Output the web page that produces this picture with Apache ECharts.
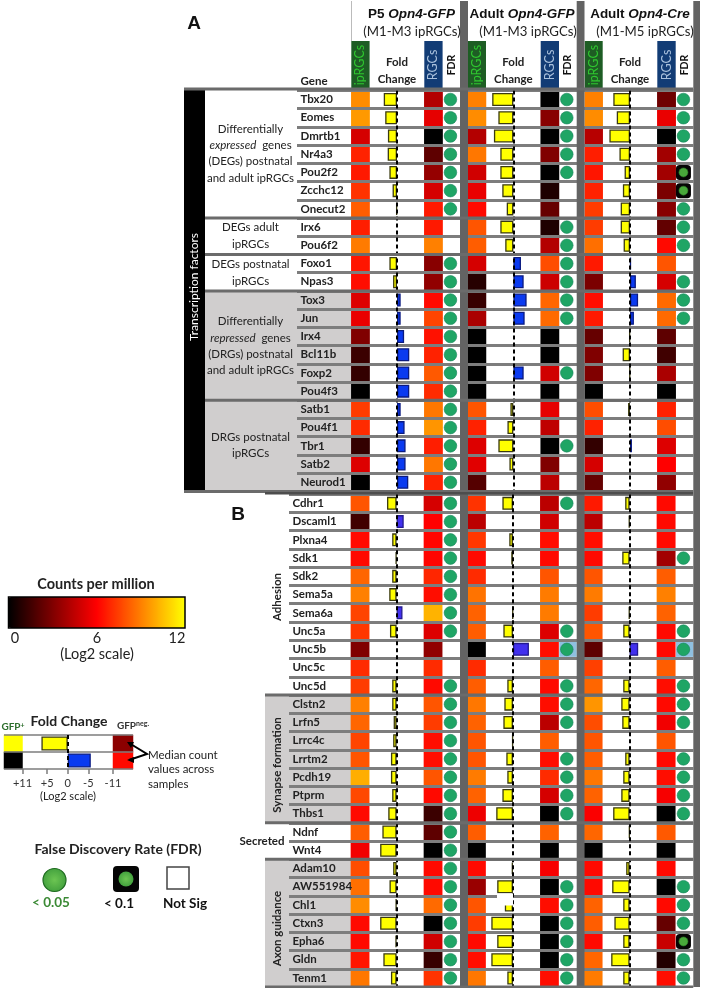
<!DOCTYPE html>
<html><head><meta charset="utf-8">
<style>html,body{margin:0;padding:0;background:#fff}#c{width:702px;height:988px}</style>
<script src="https://cdn.jsdelivr.net/npm/echarts@6/dist/echarts.min.js"></script>
</head><body><div id="c"></div>
<script>
// ---------- DATA ----------
const genesA=['Tbx20','Eomes','Dmrtb1','Nr4a3','Pou2f2','Zcchc12','Onecut2','Irx6','Pou6f2','Foxo1','Npas3','Tox3','Jun','Irx4','Bcl11b','Foxp2','Pou4f3','Satb1','Pou4f1','Tbr1','Satb2','Neurod1'];
const genesB=['Cdhr1','Dscaml1','Plxna4','Sdk1','Sdk2','Sema5a','Sema6a','Unc5a','Unc5b','Unc5c','Unc5d','Clstn2','Lrfn5','Lrrc4c','Lrrtm2','Pcdh19','Ptprm','Thbs1','Ndnf','Wnt4','Adam10','AW551984','Chl1','Ctxn3','Epha6','Gldn','Tenm1'];

const ipA1=[9.3,9.6,5,6.8,6.6,7.2,8.2,6.7,8.9,6.5,6.3,5.2,5.5,3,1.4,1.2,0,7.4,7,1.2,5.2,0];
const rgcA1=[4.2,5.4,0,2.2,3.5,5,6.6,6.6,9,3.2,3.4,6.2,7.6,6.4,6.8,8.1,7,8.8,9.5,6.7,8.8,6.8];
const ipA2=[9,9.3,4.2,8.8,4.9,5.5,6.2,8,8.2,5,0.9,1.3,4,0,0,0,0,8,6.8,5.2,5.3,2];
const rgcA2=[0,3.2,0,3,0,0.7,2.4,0.7,4.2,7.8,4.8,8.4,8.5,0,0,4.9,0,5.4,4.5,0,3,4.4];
const ipA3=[9,9.3,4.3,6.7,6.5,6.8,7.4,7.4,8.6,6.6,2.9,6.3,6.6,2.4,3,3,0,7.8,6.8,1.2,5,2.4];
const rgcA3=[2.6,5.5,0,3.8,3.8,2.9,3.2,2.3,6.2,8,5,8.5,8.5,2.2,1.5,4,0,6.8,7.8,5.2,6,3.4];
const fcA1=[5.4,4.8,3.7,3.8,3.1,1.8,0.3,0,0,3.1,1.6,-1.5,-1.5,-2.9,-5,-5,-5,-1.5,-3.1,-3.5,-3.5,-4.6];
const fcA2=[8.6,6.1,7.9,5.3,5.3,4.5,2.7,5.3,3.3,-3.1,-4.2,-5.4,-4.6,0,0,-4.2,0,1.2,2.4,6.1,1.6,0];
const fcA3=[6.8,5.4,8.4,4.3,2.2,2.9,3.8,3.8,2.6,-0.4,-2.4,-3.3,-1.6,0.3,3,0.2,0,0.8,0,-0.8,0,0];
const fdrA1=[2,2,2,2,2,2,2,0,0,2,2,2,2,2,2,2,2,2,2,2,2,2];
const fdrA2=[2,2,2,2,2,0,0,2,2,2,2,2,2,0,0,2,0,0,0,2,0,0];
const fdrA3=[2,2,2,2,1,1,2,2,2,0,2,2,2,0,0,0,0,0,0,0,0,0];

const ipB1=[8,1.5,6.2,6.2,8.4,9,7.6,7.3,3,7,7.4,9,8.4,7.6,8,10.1,7.7,6.2,8.2,5.7,7.8,8.6,9.3,6.2,6.2,6.5,8.8];
const rgcB1=[5,6,6.1,6.1,6.9,6.3,10.2,5.2,3.4,7,6.2,8,7.4,6.3,6.3,8,6.2,1.4,2.2,0,6.2,6.2,8.5,0,4.9,1.3,7.2];
const ipB2=[7.2,4.4,7.3,6.2,7,8.7,8.3,8.2,0,7,8.2,8.8,8.3,8,8,8.9,8.3,5.6,8.2,0,6.2,3.6,8,7.4,6.2,6.3,8.8];
const rgcB2=[4.4,4.9,6.3,6.2,8,8.9,8.9,5.2,6.3,8.2,6.2,6.3,4.4,8.2,6.3,7,5,0,8.3,0,5.8,0,6.3,0,0,0,6.3];
const ipB3=[6.6,4.4,6.3,6.2,8,8.9,7.4,8,2.2,7.5,8.4,9.5,7.8,8,8.2,8.8,8.3,5.9,8.4,0,6.2,6.2,8.3,8.2,6.2,8.4,8.9];
const rgcB3=[6.2,6.2,6.2,3.8,8.2,9,8.3,6.2,6.2,8.2,6.3,6.2,5.7,8,6.2,6.3,5.8,0,8.1,0,6.2,0,6.2,2.4,4.7,0.8,6.3];
const fcB1=[3.9,-2.9,1.8,0.4,1.8,3,-2.4,2.7,0,0,1.8,1.8,1.2,1.4,2.3,2.3,1.8,3.4,5.8,6.7,1.4,2.9,0.4,6.7,0.5,5.4,2.3];
const fcB2=[4.3,0,1.5,0.7,0,0,0.2,3.9,-6.5,0,2.3,3.5,3.9,0.3,2.7,2.3,4.3,6.8,0,0,0.5,6.4,3.3,8.8,6.4,8.8,2.3];
const fcB3=[1.8,0.3,0,3,0,0,0.3,2.6,-3.5,0,2.6,3.4,3,0,1.8,2.6,3.4,6.7,0.2,0,1.4,7.1,2.6,6.2,2.6,7.5,2.6];
const fdrB1=[2,2,2,2,2,2,2,2,0,0,2,2,2,2,2,2,2,2,2,2,2,2,2,2,2,2,2];
const fdrB2=[2,0,0,0,0,0,0,2,2,0,2,2,2,0,2,2,2,2,0,0,0,2,2,2,2,2,2];
const fdrB3=[0,0,0,2,0,0,0,2,2,0,2,2,2,0,2,2,2,2,0,0,0,2,2,2,1,2,2];
const highlightB2=['Unc5b'];
const highlightB3=['Unc5b'];

const cohortTitles=['P5 ','Adult ','Adult '];
const cohortLines=['Opn4-GFP','Opn4-GFP','Opn4-Cre'];
const cohortSubs=['(M1-M3 ipRGCs)','(M1-M3 ipRGCs)','(M1-M5 ipRGCs)'];
const legendRows=['GFP+','GFPneg'];
const legendIp=[12,0];
const legendRgc=[3.3,6.2];
const legendFc=[6.4,-5.6];
const legendTicks=[11,5,0,-5,-11];

// ---------- HELPERS ----------
const GRAY='#7d7d7d',DIV='#636363',LIGHT='#d0cece';
const SANS='Lato, "Open Sans", sans-serif',ARIAL='"Liberation Sans", Arial, sans-serif';
const grid=[],xAxis=[],yAxis=[],series=[],heatIdx=[],g=[];
function addGrid(x0,x1,top,bottom,rows,xa){
  const i=grid.length;
  grid.push({left:x0,top:top,width:x1-x0,height:bottom-top,containLabel:false});
  xAxis.push(Object.assign({gridIndex:i,show:false},xa||{type:'category',data:['v']}));
  yAxis.push({gridIndex:i,type:'category',inverse:true,data:rows,show:false});
  return i;
}
function heat(x0,x1,top,bottom,rows,vals){
  const i=addGrid(x0,x1,top,bottom,rows);
  heatIdx.push(series.length);
  series.push({type:'heatmap',xAxisIndex:i,yAxisIndex:i,silent:true,data:vals.map((v,k)=>[0,k,v])});
}
function fcBars(x0,x1,top,bottom,rows,vals,pos,neg,bw,extra){
  const i=addGrid(x0,x1,top,bottom,rows,Object.assign({type:'value',min:-11,max:11,inverse:true,show:false},extra||{}));
  series.push({type:'bar',xAxisIndex:i,yAxisIndex:i,silent:true,barWidth:bw,
    data:vals.map(v=>({value:v,itemStyle:{color:v>=0?pos.c:neg.c,borderColor:v>=0?pos.b:neg.b,borderWidth:v===0?0:1.3}})),
    markLine:{silent:true,symbol:'none',label:{show:false},animation:false,
      lineStyle:{color:'#000',type:[4,3],width:2},data:[{xAxis:0}]}});
}
function fdr(x0,x1,top,bottom,rows,vals,highlight){
  const i=addGrid(x0-1.2,x1-1.2,top,bottom,rows);
  if(highlight) series.push({type:'scatter',xAxisIndex:i,yAxisIndex:i,silent:true,symbol:'rect',symbolSize:[x1-x0,15],
    symbolOffset:[1.2,0],itemStyle:{color:'#8fc0e0',opacity:1},data:highlight.map(n=>[0,rows.indexOf(n)])});
  series.push({type:'scatter',xAxisIndex:i,yAxisIndex:i,silent:true,symbol:'roundRect',symbolSize:15,
    itemStyle:{color:'#050505',opacity:1},data:vals.map((v,k)=>[0,k,v]).filter(d=>d[2]===1)});
  const dots=vals.map((v,k)=>[0,k,v]).filter(d=>d[2]>0).map(d=>({value:d,symbolSize:d[2]===1?9:12.6,
    itemStyle:d[2]===1?{color:'#48a83a',borderColor:'#2c7a26',borderWidth:0.6,opacity:1}
                      :{color:'#1fa565',borderColor:'#15835a',borderWidth:0.6,opacity:1}}));
  series.push({type:'scatter',xAxisIndex:i,yAxisIndex:i,silent:true,symbol:'circle',z:3,data:dots});
}
function overlay(x0,x1,top,bottom,rows,labelMargin){
  const i=grid.length;
  grid.push({left:x0,top:top,width:x1-x0,height:bottom-top});
  xAxis.push({gridIndex:i,type:'value',show:false,min:0,max:1});
  yAxis.push({gridIndex:i,type:'category',inverse:true,data:rows,z:5,
    axisLine:{show:false},axisTick:{show:false},
    splitLine:{show:true,interval:0,lineStyle:{color:GRAY,width:3}},
    axisLabel:{inside:true,interval:0,margin:labelMargin,align:'left',color:'#222',fontFamily:SANS,fontWeight:'bold',fontSize:11.5}});
}
function rect(x,y,w,h,fill,z,stroke,lw){g.push({type:'rect',silent:true,z:z==null?0:z,shape:{x,y,width:w,height:h},style:{fill:fill,stroke:stroke||null,lineWidth:lw||0}});}
function text(x,y,t,o){o=o||{};
  g.push({type:'text',silent:true,z:12,x:x,y:y,rotation:o.rot||0,style:Object.assign({x:0,y:0,text:t,fill:o.fill||'#222',
    font:(o.italic?'italic ':'')+(o.bold?'bold ':'')+(o.size||11.5)+'px '+(o.fam||SANS),
    textAlign:o.align||'center',textVerticalAlign:'middle'},o.rich?{rich:o.rich}:{})});}

// column geometry per cohort
const cols=[[351.3,369.6,370,424,424.3,442.6,443.3,460],
            [468,486,486.3,540.4,540.7,559,559.3,576.7],
            [584.7,602.7,603,657,657.3,675.7,676,693.3]];
const topA=90.4,botA=491.4,topB=494.2,botB=987.1;
const blueA={c:'#0a3af0',b:'#0a1a80'},blueB={c:'#4230ee',b:'#231a90'},yel={c:'#ffff00',b:'#3a3a10'};

// ---------- PANEL BACKGROUNDS ----------
const pA=(botA-topA)/genesA.length,pB=(botB-topB)/genesB.length;
const ya=i=>topA+i*pA, yb=i=>topB+i*pB;
rect(205,ya(11),146,ya(17)-ya(11),LIGHT);
rect(205,ya(17),146,ya(22)-ya(17),LIGHT);
rect(265,yb(11),86,yb(18)-yb(11),LIGHT);
rect(265,yb(20),86,yb(27)-yb(20),LIGHT);
rect(184,89,21,botA-89,'#000',1);

// ---------- TABLES ----------
const dataA=[[ipA1,fcA1,rgcA1,fdrA1],[ipA2,fcA2,rgcA2,fdrA2],[ipA3,fcA3,rgcA3,fdrA3]];
const dataB=[[ipB1,fcB1,rgcB1,fdrB1,null],[ipB2,fcB2,rgcB2,fdrB2,highlightB2],[ipB3,fcB3,rgcB3,fdrB3,highlightB3]];
dataA.forEach((d,c)=>{const k=cols[c];
  heat(k[0],k[1],topA,botA,genesA,d[0]);
  fcBars(k[2],k[3],topA,botA,genesA,d[1],yel,blueA,13);
  heat(k[4],k[5],topA,botA,genesA,d[2]);
  fdr(k[6],k[7],topA,botA,genesA,d[3]);
});
dataB.forEach((d,c)=>{const k=cols[c];
  heat(k[0]-0.4,k[1]-0.4,topB,botB,genesB,d[0]);
  fcBars(k[2]-0.4,k[3]-0.4,topB,botB,genesB,d[1],yel,blueB,13);
  heat(k[4]-0.4,k[5]-0.4,topB,botB,genesB,d[2]);
  fdr(k[6],k[7],topB,botB,genesB,d[3],d[4]);
});
overlay(297,693.3,topA,botA,genesA,3.5);
overlay(289,693.3,topB,botB,genesB,3.5);

// legend table
const lt=735,lb=769;
heat(4,22.5,lt,lb,legendRows,legendIp);
fcBars(22.5,113,lt,lb,legendRows,legendFc,yel,{c:'#0a3af0',b:'#0a1a80'},14,{show:true,
  axisLine:{show:false},splitLine:{show:false},
  axisTick:{show:true,length:5,lineStyle:{color:GRAY,width:1.5},customValues:legendTicks},
  axisLabel:{show:true,color:'#333',fontFamily:SANS,fontSize:11,margin:9,customValues:legendTicks,
    formatter:v=>v>0?'+'+v:String(v),hideOverlap:false}});
heat(113,133,lt,lb,legendRows,legendRgc);
(function(){const i=grid.length;
  grid.push({left:4,top:lt,width:129,height:lb-lt});
  xAxis.push({gridIndex:i,type:'value',show:false,min:0,max:1});
  yAxis.push({gridIndex:i,type:'category',inverse:true,data:legendRows,z:5,axisLine:{show:false},axisTick:{show:false},axisLabel:{show:false},
    splitLine:{show:true,interval:0,lineStyle:{color:GRAY,width:1.6}}});
})();

// ---------- DECORATION ----------
[[460,8],[576.7,7.8],[693.3,6.7]].forEach(a=>rect(a[0],1,a[1],botB-1,DIV,6));
[[184,693,89],[184,693,botA]].forEach(a=>rect(a[0],a[2]-1.5,a[1]-a[0],3,'#6b6b6b',6));
rect(265,botA+0.6,428,2.4,'#4d4d4d',6);
[7,9,11,17].forEach(i=>rect(205,ya(i)-1.5,488,3,'#6b6b6b',6));
[11,18,20].forEach(i=>rect(265,yb(i)-1.5,428,3,'#6b6b6b',6));
rect(265,botB-1.5,428,3,'#6b6b6b',6);
rect(351,1,0.8,40,'#aaa',6);
// white blemish in the source figure
rect(497,893.5,16,12,'#fff',7);

// header
cohortTitles.forEach((t,c)=>{
  const cx=[411.5,522,640][c],sx=[412,528,645][c];
  text(cx,14,'{a|'+t+'}{b|'+cohortLines[c]+'}',{rich:{a:{font:'bold 13.5px '+ARIAL,fill:'#111'},b:{font:'italic bold 13.5px '+ARIAL,fill:'#111'}}});
  text(sx,32,cohortSubs[c],{size:13.2,fill:'#222'});
  const k=cols[c];
  rect(k[0],41,k[1]-k[0],47,'#1e5d24',5);
  rect(k[4],41,k[5]-k[4],47,'#123c75',5);
  text((k[0]+k[1])/2,65,'ipRGCs',{rot:Math.PI/2,fill:'#2fc62f',size:12.5});
  text((k[4]+k[5])/2,65,'RGCs',{rot:Math.PI/2,fill:'#a9c0dc',size:12.5});
  text((k[6]+k[7])/2,65,'FDR',{rot:Math.PI/2,bold:true,fill:'#111',size:10.5});
  text((k[2]+k[3])/2,62.5,'Fold',{bold:true,size:11.5});
  text((k[2]+k[3])/2,79,'Change',{bold:true,size:11.5});
});
text(300.5,81,'Gene',{bold:true,size:11.5,align:'left'});
text(194,24,'A',{bold:true,size:19,fam:ARIAL,fill:'#111'});
text(238,515,'B',{bold:true,size:19,fam:ARIAL,fill:'#111'});
text(194.5,287,'Transcription factors',{rot:Math.PI/2,fill:'#fff',size:12});

// row-group labels, panel A
[['Differentially',129],['expressed  genes',145,1],['(DEGs) postnatal',161.5],['and adult ipRGCs',178],
 ['DEGs adult',227],['ipRGCs',244],['DEGs postnatal',264],['ipRGCs',281],
 ['Differentially',321],['repressed  genes',338,2],['(DRGs) postnatal',354],['and adult ipRGCs',370],
 ['DRGs postnatal',437],['ipRGCs',453]].forEach(a=>{
   if(a[2]){const w=a[0].split('  ');
     text(250.5,a[1],'{i|'+w[0]+'}{n|  '+w[1]+'}',{rich:{i:{font:'italic 11.5px '+SANS,fill:'#222'},n:{font:'11.5px '+SANS,fill:'#222'}}});
   } else text(250.5,a[1],a[0],{size:11.5});
 });
// row-group labels, panel B
text(277,597,'Adhesion',{rot:Math.PI/2,bold:true,size:11.5});
text(277,765,'Synapse formation',{rot:Math.PI/2,bold:true,size:11.5});
text(262,841,'Secreted',{bold:true,size:11.5});
text(277,928.5,'Axon guidance',{rot:Math.PI/2,bold:true,size:11.5});

// counts legend
text(96,584,'Counts per million',{bold:true,size:14.5});
rect(8.5,597,176.5,31,null,8,'#000',1.5);
text(15,638,'0',{size:14.5});text(97,638,'6',{size:14.5});text(177,638,'12',{size:14.5});
text(97,654,'(Log2 scale)',{size:14.5});

// fold change legend
text(69,721,'Fold Change',{bold:true,size:14});
text(13,727,'{a|GFP}{s|+}',{rich:{a:{font:'bold 10px '+SANS,fill:'#2c6e2c'},s:{font:'bold 7px '+SANS,fill:'#2c6e2c',verticalAlign:'top'}}});
text(133,725.5,'{a|GFP}{s|neg.}',{rich:{a:{font:'bold 10px '+SANS,fill:'#333'},s:{font:'bold 7px '+SANS,fill:'#333',verticalAlign:'top'}}});
text(68,796,'(Log2 scale)',{size:11});
[['Median count',755],['values across',769.5],['samples',784]].forEach(a=>text(148,a[1],a[0],{size:11.5,align:'left'}));
g.push({type:'polyline',silent:true,z:9,shape:{points:[[129,743],[147,754],[129,760]]},style:{stroke:'#000',lineWidth:2,fill:null}});
g.push({type:'polygon',silent:true,z:9,shape:{points:[[127,742],[134,742],[131,748]]},style:{fill:'#000'}});
g.push({type:'polygon',silent:true,z:9,shape:{points:[[127,760],[134,757],[134,763]]},style:{fill:'#000'}});

// FDR legend
text(118,849,'False Discovery Rate (FDR)',{bold:true,size:14});
g.push({type:'circle',silent:true,z:8,shape:{cx:54.5,cy:880,r:11.5},style:{stroke:'#1f6b20',lineWidth:1.2,
  fill:{type:'radial',x:0.5,y:0.5,r:0.6,colorStops:[{offset:0,color:'#6cc552'},{offset:1,color:'#3b9a3a'}]}}});
g.push({type:'rect',silent:true,z:8,shape:{x:113,y:866,width:26,height:26,r:4},style:{fill:'#050505'}});
g.push({type:'circle',silent:true,z:9,shape:{cx:126,cy:879,r:7.5},style:{fill:{type:'radial',x:0.5,y:0.5,r:0.6,colorStops:[{offset:0,color:'#6cc552'},{offset:1,color:'#3b9a3a'}]}}});
rect(167,867,22,22,'#fff',8,'#444',1.5);
text(51,903,'< 0.05',{bold:true,size:13.5,fill:'#3b8a35'});
text(119,904,'< 0.1',{bold:true,size:13.5,fill:'#111'});
text(185,904,'Not Sig',{bold:true,size:13.5,fill:'#111'});

// ---------- CHART ----------
const chart=echarts.init(document.getElementById('c'),null,{renderer:'canvas'});
chart.setOption({
  animation:false,backgroundColor:'#fff',tooltip:{show:false},
  grid,xAxis,yAxis,series,
  visualMap:{type:'continuous',seriesIndex:heatIdx,min:0,max:12,dimension:2,orient:'horizontal',
    left:8.5,top:597,itemWidth:31,itemHeight:176.5,calculable:false,realtime:false,silent:true,text:null,
    showLabel:false,textStyle:{fontSize:0,color:'transparent'},padding:0,
    inRange:{color:['#000000','#ff0000','#ffff00']}},
  graphic:{elements:g}
});
</script></body></html>
